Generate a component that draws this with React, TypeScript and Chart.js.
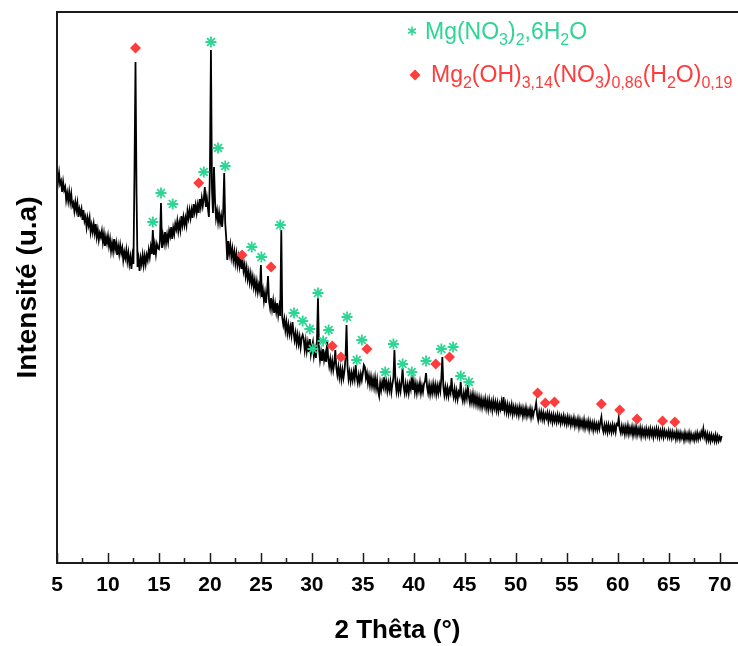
import React, { useEffect, useRef } from 'react';
import { Chart, registerables } from 'chart.js';

Chart.register(...registerables);

// ---- Data (intensity in arbitrary units, sampled every 0.1° of 2θ) ----
const thetaStart = 5;
const thetaStep = 0.1;

const seg5to15 = [
  392, 381, 390, 379, 382, 371, 381, 373, 376, 363,
  370, 362, 371, 361, 369, 357, 360, 352, 361, 353,
  360, 346, 354, 349, 354, 343, 353, 342, 346, 336,
  345, 338, 345, 331, 338, 331, 339, 330, 339, 326,
  333, 323, 330, 326, 332, 321, 329, 317, 326, 320,
  327, 317, 324, 312, 320, 312, 324, 314, 320, 308,
  317, 309, 318, 310, 315, 303, 311, 305, 313, 302,
  310, 299, 306, 294, 307, 299, 390, 501, 370, 296,
  304, 292, 305, 299, 308, 298, 307, 299, 308, 303,
  313, 306, 316, 309, 333, 308, 318, 309, 319, 315,
];
const seg15to25 = [
  314, 322, 360, 315, 327, 320, 331, 320, 328, 321,
  332, 327, 336, 324, 335, 329, 339, 334, 342, 332,
  340, 333, 347, 338, 346, 338, 345, 338, 352, 345,
  353, 345, 353, 345, 359, 351, 358, 350, 358, 350,
  364, 356, 365, 357, 364, 376, 356, 365, 355, 346,
  390, 513, 375, 350, 396, 362, 345, 352, 341, 350,
  340, 347, 336, 350, 390, 340, 325, 303, 322, 310,
  318, 306, 314, 303, 311, 300, 309, 298, 306, 297,
  306, 294, 303, 292, 298, 287, 295, 284, 291, 281,
  289, 279, 286, 276, 283, 273, 281, 271, 278, 272,
];
const seg25to35 = [
  298, 266, 273, 262, 270, 260, 271, 287, 262, 255,
  265, 254, 262, 250, 259, 251, 260, 248, 256, 247,
  333, 245, 238, 244, 233, 241, 230, 238, 229, 236,
  228, 241, 231, 223, 230, 220, 228, 219, 226, 216,
  225, 228, 224, 213, 222, 212, 220, 211, 224, 209,
  216, 221, 207, 214, 205, 222, 265, 214, 203, 211,
  202, 214, 203, 209, 201, 223, 205, 197, 204, 194,
  202, 193, 200, 213, 195, 188, 196, 186, 194, 184,
  193, 185, 192, 205, 238, 196, 184, 191, 182, 190,
  183, 191, 184, 198, 186, 180, 188, 181, 189, 183,
];
const seg35to45 = [
  190, 198, 196, 185, 190, 180, 187, 178, 186, 177,
  184, 176, 185, 175, 183, 172, 167, 180, 173, 181,
  176, 186, 175, 181, 172, 180, 173, 181, 171, 179,
  185, 213, 182, 172, 180, 171, 179, 172, 181, 195,
  176, 170, 179, 171, 178, 170, 179, 174, 188, 173,
  181, 171, 179, 170, 178, 172, 180, 170, 177, 171,
  179, 182, 190, 176, 170, 178, 169, 177, 170, 179,
  171, 178, 169, 177, 170, 178, 172, 185, 206, 176,
  168, 176, 168, 175, 167, 174, 170, 185, 172, 166,
  174, 165, 172, 164, 171, 168, 181, 167, 162, 170,
];
const seg45to55 = [
  163, 171, 165, 178, 166, 160, 168, 161, 169, 160,
  167, 159, 166, 158, 165, 157, 164, 156, 163, 157,
  164, 155, 162, 154, 163, 155, 161, 153, 162, 155,
  161, 153, 160, 152, 159, 154, 161, 152, 166, 153,
  159, 151, 158, 150, 157, 151, 158, 149, 156, 150,
  156, 149, 155, 148, 156, 150, 155, 147, 154, 148,
  155, 147, 153, 148, 154, 146, 153, 147, 152, 154,
  160, 148, 143, 151, 145, 151, 144, 150, 143, 149,
  145, 150, 142, 149, 143, 148, 141, 148, 142, 147,
  141, 148, 142, 147, 140, 146, 141, 147, 140, 145,
];
const seg55to65 = [
  139, 146, 140, 145, 138, 144, 139, 145, 137, 143,
  138, 144, 136, 143, 137, 142, 136, 143, 135, 141,
  136, 142, 134, 141, 135, 140, 133, 140, 134, 139,
  133, 139, 134, 141, 146, 135, 131, 138, 132, 138,
  131, 138, 132, 137, 131, 138, 132, 137, 131, 139,
  138, 145, 134, 130, 137, 131, 136, 129, 136, 130,
  137, 129, 135, 130, 136, 128, 135, 129, 136, 128,
  134, 129, 135, 127, 134, 128, 133, 127, 134, 128,
  133, 127, 134, 128, 133, 126, 133, 128, 134, 127,
  133, 126, 132, 127, 133, 126, 132, 127, 131, 126,
];
const seg65to70 = [
  132, 126, 131, 125, 131, 126, 130, 124, 131, 125,
  130, 124, 130, 125, 129, 123, 130, 124, 129, 124,
  130, 123, 129, 124, 128, 123, 129, 124, 130, 124,
  129, 125, 131, 127, 134, 126, 130, 123, 129, 123,
  128, 122, 128, 123, 127, 122, 128, 122, 127, 122,
  126, 123, 127,
];

// Peak markers: Mg(NO3)2,6H2O (green asterisks)
const nitrateTheta = [14.4, 15.2, 16.35, 19.4, 20.1, 20.8, 21.5, 24.1, 25.05, 26.9, 28.25, 29.1, 29.8, 30.1, 30.6, 31.1, 31.65, 33.45, 34.4, 34.9, 37.2, 38.0, 38.9, 39.8, 41.2, 42.7, 43.85, 44.6, 45.4];
const nitrateHeight = [341, 370, 359, 391, 521, 415, 397, 316, 306, 338, 250, 242, 234, 214, 270, 222, 233, 246, 203, 223, 191, 219, 199, 191, 202, 214, 216, 187, 181];

// Peak markers: Mg2(OH)3,14(NO3)0,86(H2O)0,19 (red diamonds)
const hydroxyTheta = [12.7, 18.9, 23.15, 26.0, 32.0, 32.85, 35.4, 42.15, 43.5, 52.15, 52.9, 53.8, 58.4, 60.2, 61.9, 64.4, 65.6];
const hydroxyHeight = [515, 380, 308, 296, 217, 206, 214, 199, 206, 170, 160, 161, 159, 153, 144, 142, 141];

const majorTicks = [5, 10, 15, 20, 25, 30, 35, 40, 45, 50, 55, 60, 65, 70];
const minorTicks = [7.5, 12.5, 17.5, 22.5, 27.5, 32.5, 37.5, 42.5, 47.5, 52.5, 57.5, 62.5, 67.5];

// legend labels: [text, isSubscript]
const nitrateLabel: [string, boolean][] = [['Mg(NO', false], ['3', true], [')', false], ['2', true], [',6H', false], ['2', true], ['O', false]];
const hydroxyLabel: [string, boolean][] = [['Mg', false], ['2', true], ['(OH)', false], ['3,14', true], ['(NO', false], ['3', true], [')', false], ['0,86', true], ['(H', false], ['2', true], ['O)', false], ['0,19', true]];

const GREEN = '#2CD592';
const RED = '#FF3B3B';
const SANS = '"Liberation Sans", Arial, sans-serif';
const NARROW = '"Liberation Sans Narrow", "Arial Narrow", "Liberation Sans", Arial, sans-serif';

function drawRich(ctx: CanvasRenderingContext2D, x: number, y: number, parts: [string, boolean][], color: string) {
  ctx.fillStyle = color;
  ctx.textBaseline = 'alphabetic';
  ctx.textAlign = 'left';
  let cx = x;
  for (const [t, sub] of parts) {
    ctx.font = sub ? `16px ${SANS}` : `23px ${SANS}`;
    ctx.fillText(t, cx, sub ? y + 6 : y);
    cx += ctx.measureText(t).width;
  }
}

const framePlugin = {
  id: 'frameAndLegend',
  afterDraw(chart: any) {
    const { ctx, chartArea, width } = chart;
    const { left, top, bottom } = chartArea;
    const xs = chart.scales.x;
    ctx.save();
    ctx.strokeStyle = '#1c1c1c';
    ctx.lineWidth = 2;
    ctx.beginPath();
    ctx.moveTo(width, top);
    ctx.lineTo(left, top);
    ctx.lineTo(left, bottom);
    ctx.lineTo(width, bottom);
    ctx.stroke();
    ctx.lineWidth = 1.5;
    ctx.beginPath();
    for (const v of majorTicks) {
      const p = Math.round(xs.getPixelForValue(v)) + 0.5;
      ctx.moveTo(p, bottom);
      ctx.lineTo(p, bottom - 10);
    }
    for (const v of minorTicks) {
      const p = Math.round(xs.getPixelForValue(v)) + 0.5;
      ctx.moveTo(p, bottom);
      ctx.lineTo(p, bottom - 5);
    }
    ctx.stroke();

    // legend: asterisk
    const ax = 412, ay = 31, ar = 4.5;
    ctx.strokeStyle = GREEN;
    ctx.lineWidth = 1.5;
    ctx.beginPath();
    for (let k = 0; k < 3; k++) {
      const a = Math.PI / 2 + (k * Math.PI) / 3;
      ctx.moveTo(ax - Math.cos(a) * ar, ay - Math.sin(a) * ar);
      ctx.lineTo(ax + Math.cos(a) * ar, ay + Math.sin(a) * ar);
    }
    ctx.stroke();
    drawRich(ctx, 425, 39, nitrateLabel, GREEN);
    // legend: diamond
    const dx = 415, dy = 75, dr = 5.5;
    ctx.fillStyle = RED;
    ctx.beginPath();
    ctx.moveTo(dx, dy - dr);
    ctx.lineTo(dx + dr, dy);
    ctx.lineTo(dx, dy + dr);
    ctx.lineTo(dx - dr, dy);
    ctx.closePath();
    ctx.fill();
    drawRich(ctx, 431, 82, hydroxyLabel, RED);
    ctx.restore();
  },
};

export default function App() {
  const ref = useRef<HTMLCanvasElement | null>(null);
  useEffect(() => {
    document.body.style.margin = '0';
    document.body.style.overflow = 'hidden';
    const intensity = [...seg5to15, ...seg15to25, ...seg25to35, ...seg35to45, ...seg45to55, ...seg55to65, ...seg65to70];
    const pattern = intensity.map((y, i) => ({ x: +(thetaStart + i * thetaStep).toFixed(1), y }));
    const nitrate = nitrateTheta.map((x, i) => ({ x, y: nitrateHeight[i] }));
    const hydroxy = hydroxyTheta.map((x, i) => ({ x, y: hydroxyHeight[i] }));
    const chart = new Chart(ref.current as HTMLCanvasElement, {
      type: 'scatter',
      data: {
        datasets: [
          { type: 'line', data: pattern, borderColor: '#000', borderWidth: 1.8, pointRadius: 0, tension: 0, order: 3 } as any,
          { type: 'scatter', data: nitrate, pointStyle: 'star', pointRadius: 5.5, borderColor: GREEN, backgroundColor: GREEN, borderWidth: 1.8, order: 2 } as any,
          { type: 'scatter', data: hydroxy, pointStyle: 'rectRot', pointRadius: 5.5, borderColor: RED, backgroundColor: RED, borderWidth: 0, order: 1 } as any,
        ],
      },
      options: {
        responsive: false,
        animation: false,
        layout: { autoPadding: false, padding: { top: 12, left: 0, right: 0, bottom: 0 } },
        plugins: { legend: { display: false }, tooltip: { enabled: false } },
        scales: {
          x: {
            type: 'linear',
            min: 5,
            max: 71.8,
            afterFit: (s: any) => { s.height = 83; s.paddingRight = 0; s.paddingLeft = 0; },
            grid: { display: false, drawTicks: false },
            border: { display: false },
            ticks: {
              stepSize: 5,
              includeBounds: false,
              autoSkip: false,
              maxRotation: 0,
              padding: 10,
              color: '#000',
              font: { family: NARROW, size: 21, weight: 'bold' },
            },
            title: {
              display: true,
              text: '2 Thêta (°)',
              color: '#000',
              font: { family: NARROW, size: 26, weight: 'bold' },
              padding: { top: 4, bottom: 0 },
            },
          },
          y: {
            min: 0,
            max: 551,
            afterFit: (s: any) => { s.width = 57; },
            grid: { display: false, drawTicks: false },
            border: { display: false },
            ticks: { display: false },
            title: {
              display: true,
              text: 'Intensité (u.a)',
              color: '#000',
              font: { family: SANS, size: 28, weight: 'bold' },
              padding: { top: 11, bottom: 0 },
            },
          },
        },
      } as any,
      plugins: [framePlugin],
    });
    return () => chart.destroy();
  }, []);
  return (
    <div style={{ position: 'fixed', left: 0, top: 0, width: 738, height: 646, background: '#fff' }}>
      <canvas ref={ref} width={738} height={646} style={{ display: 'block' }} />
    </div>
  );
}
